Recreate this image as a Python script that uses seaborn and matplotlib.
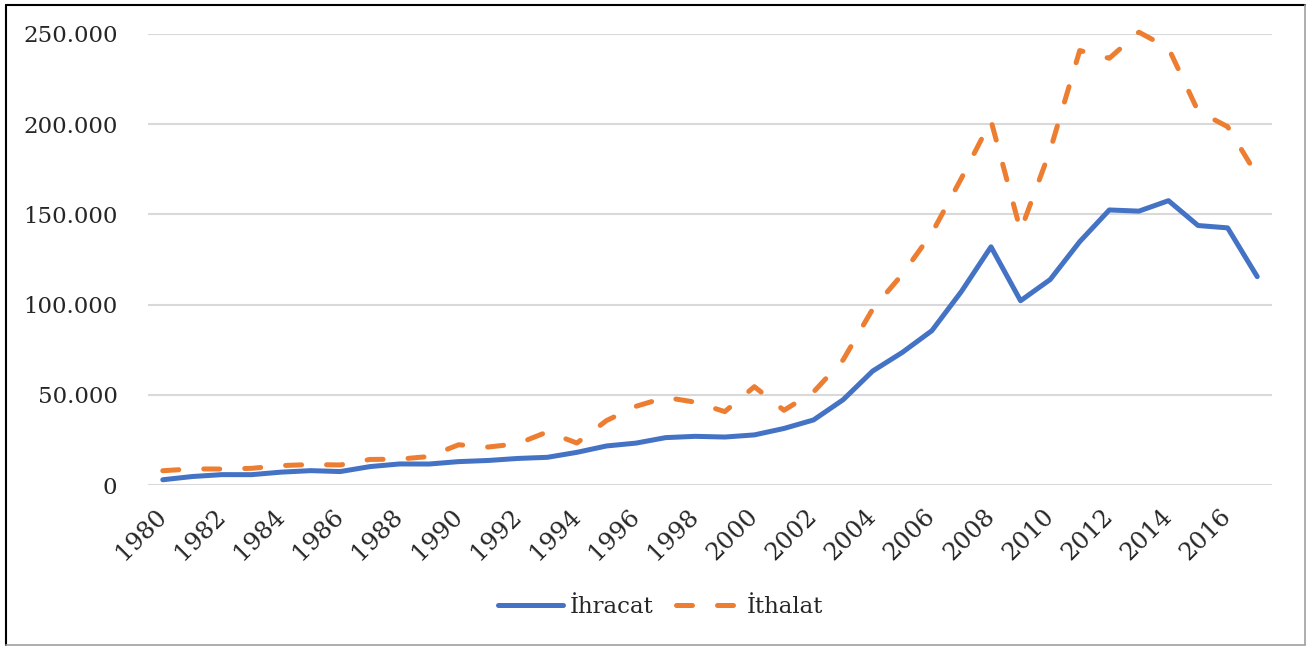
import pandas as pd
import matplotlib.pyplot as plt
import seaborn as sns
from matplotlib.lines import Line2D
from matplotlib.ticker import FuncFormatter, MultipleLocator

# Data (million USD)
years = list(range(1980, 2018))
ihracat = [2910, 4703, 5746, 5728, 7134, 7958, 7457, 10190, 11662, 11625,
           12959, 13593, 14715, 15345, 18106, 21637, 23225, 26261, 26974, 26587,
           27775, 31334, 36059, 47253, 63167, 73476, 85535, 107272, 132027, 102143,
           113883, 134907, 152462, 151803, 157610, 143839, 142530, 115500]
ithalat = [7909, 8933, 8843, 9235, 10757, 11343, 11105, 14158, 14335, 15792,
           22302, 21047, 22871, 29428, 23270, 35709, 43627, 48559, 45921, 40671,
           54503, 41399, 51554, 69340, 97540, 116774, 139576, 170063, 201964, 140928,
           185544, 240842, 236545, 251000, 242177, 207234, 198618, 171500]
series_names = ['İhracat', 'İthalat']

df = pd.DataFrame({
    'Yıl': years * 2,
    'Değer': ihracat + ithalat,
    'Seri': [series_names[0]] * len(years) + [series_names[1]] * len(years),
})

sns.set_style('white')
plt.rcParams['font.family'] = ['DejaVu Serif']

W, H = 1306, 646
fig = plt.figure(figsize=(W / 100, H / 100), dpi=100)
ax = fig.add_axes([148 / W, 1 - 485 / H, (1272 - 148) / W, (485 - 34) / H])

palette = {'İhracat': '#4472C4', 'İthalat': '#ED7D31'}
dashes = {'İhracat': '', 'İthalat': (3.2, 5)}
sns.lineplot(data=df, x='Yıl', y='Değer', hue='Seri', style='Seri',
             palette=palette, dashes=dashes, linewidth=3.6, errorbar=None,
             legend=False, ax=ax)

for ln in ax.lines:
    ln.set_solid_capstyle('round')
    ln.set_dash_capstyle('round')
    ln.set_solid_joinstyle('round')
    ln.set_clip_on(False)

ax.set_xlim(1979.5, 2017.5)
ax.set_ylim(0, 250000)
ax.yaxis.set_major_locator(MultipleLocator(50000))
ax.yaxis.set_major_formatter(FuncFormatter(lambda v, p: f"{int(v):,}".replace(',', '.')))
ax.set_xticks(years[::2])
ax.grid(axis='y', color='#d9d9d9', linewidth=1.5)
ax.set_axisbelow(True)
for s in ax.spines.values():
    s.set_visible(False)
ax.set_xlabel('')
ax.set_ylabel('')
ax.tick_params(axis='y', length=0, pad=22, labelsize=16.5)
ax.tick_params(axis='x', length=0, pad=20, labelsize=17.5)
for lab in ax.get_xticklabels():
    lab.set_rotation(45)
    lab.set_ha('right')
    lab.set_va('center')
    lab.set_rotation_mode('anchor')

fig.legend(handles=ax.lines[:2], labels=series_names, loc='center',
           bbox_to_anchor=(661 / W, 1 - 607 / H), ncol=2, frameon=False,
           fontsize=16.5, handlelength=2.8, handletextpad=0.3, columnspacing=1.0)

# outer frame
fig.add_artist(Line2D([5.5 / W, 5.5 / W], [1 - 645 / H, 1 - 5 / H], color='black', linewidth=1.5))
fig.add_artist(Line2D([5.5 / W, 1304.5 / W], [1 - 5 / H, 1 - 5 / H], color='black', linewidth=1.5))
fig.add_artist(Line2D([1304.5 / W, 1304.5 / W], [1 - 644.5 / H, 1 - 5 / H], color='#a0a0a0', linewidth=1.2))
fig.add_artist(Line2D([5.5 / W, 1304.5 / W], [1 - 644.5 / H, 1 - 644.5 / H], color='#a0a0a0', linewidth=1.2))

fig.savefig('out.png', dpi=100)
